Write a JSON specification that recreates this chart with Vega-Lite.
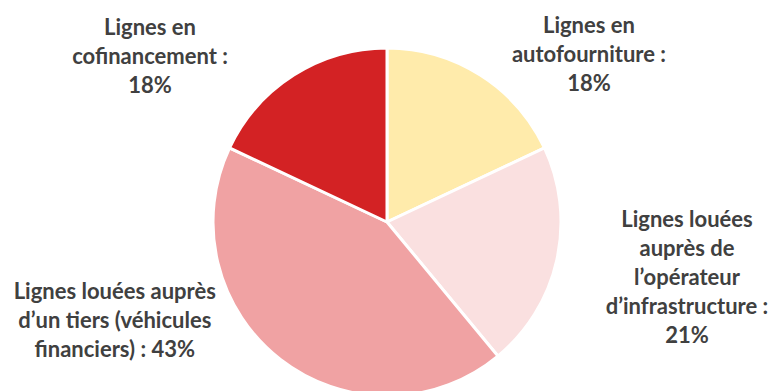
{
  "$schema": "https://vega.github.io/schema/vega-lite/v6.json",
  "width": 768,
  "height": 338,
  "autosize": "none",
  "padding": {"top": 53, "left": 3, "right": 0, "bottom": 0},
  "background": "white",
  "config": {"view": {"stroke": null}},
  "data": {
    "values": [
      {"rank": 1, "segment": "autofourniture", "value": 18, "label": "Lignes en\nautofourniture :\n18%"},
      {"rank": 2, "segment": "opérateur", "value": 21, "label": "Lignes louées\nauprès de\nl’opérateur\nd’infrastructure :\n21%"},
      {"rank": 3, "segment": "tiers", "value": 43, "label": "Lignes louées auprès\nd’un tiers (véhicules\nfinanciers) : 43%"},
      {"rank": 4, "segment": "cofinancement", "value": 18, "label": "Lignes en\ncofinancement :\n18%"}
    ]
  },
  "encoding": {
    "theta": {"field": "value", "type": "quantitative", "stack": true},
    "order": {"field": "rank", "type": "quantitative"}
  },
  "layer": [
    {
      "mark": {"type": "arc", "outerRadius": 174, "stroke": "white", "strokeWidth": 3},
      "encoding": {
        "color": {
          "field": "segment",
          "type": "nominal",
          "scale": {
            "domain": ["autofourniture", "opérateur", "tiers", "cofinancement"],
            "range": ["#FFEBAB", "#FAE0E0", "#F0A2A3", "#D32224"]
          },
          "legend": null
        }
      }
    },
    {
      "mark": {"type": "text", "radius": 250, "dx": 68, "dy": 15.5, "font": "Lato", "fontSize": 22, "fontWeight": "bold", "fill": "#404040", "lineBreak": "\n", "lineHeight": 29, "align": "center", "baseline": "middle"},
      "encoding": {"text": {"condition": {"test": "datum.rank == 1", "field": "label"}, "value": ""}}
    },
    {
      "mark": {"type": "text", "radius": 250, "dx": 56, "dy": -56.5, "font": "Lato", "fontSize": 22, "fontWeight": "bold", "fill": "#404040", "lineBreak": "\n", "lineHeight": 29, "align": "center", "baseline": "middle"},
      "encoding": {"text": {"condition": {"test": "datum.rank == 2", "field": "label"}, "value": ""}}
    },
    {
      "mark": {"type": "text", "radius": 250, "dx": -119, "dy": -127.5, "font": "Lato", "fontSize": 22, "fontWeight": "bold", "fill": "#404040", "lineBreak": "\n", "lineHeight": 29, "align": "center", "baseline": "middle"},
      "encoding": {"text": {"condition": {"test": "datum.rank == 3", "field": "label"}, "value": ""}}
    },
    {
      "mark": {"type": "text", "radius": 250, "dx": -103, "dy": 17, "font": "Lato", "fontSize": 22, "fontWeight": "bold", "fill": "#404040", "lineBreak": "\n", "lineHeight": 29, "align": "center", "baseline": "middle"},
      "encoding": {"text": {"condition": {"test": "datum.rank == 4", "field": "label"}, "value": ""}}
    }
  ]
}
